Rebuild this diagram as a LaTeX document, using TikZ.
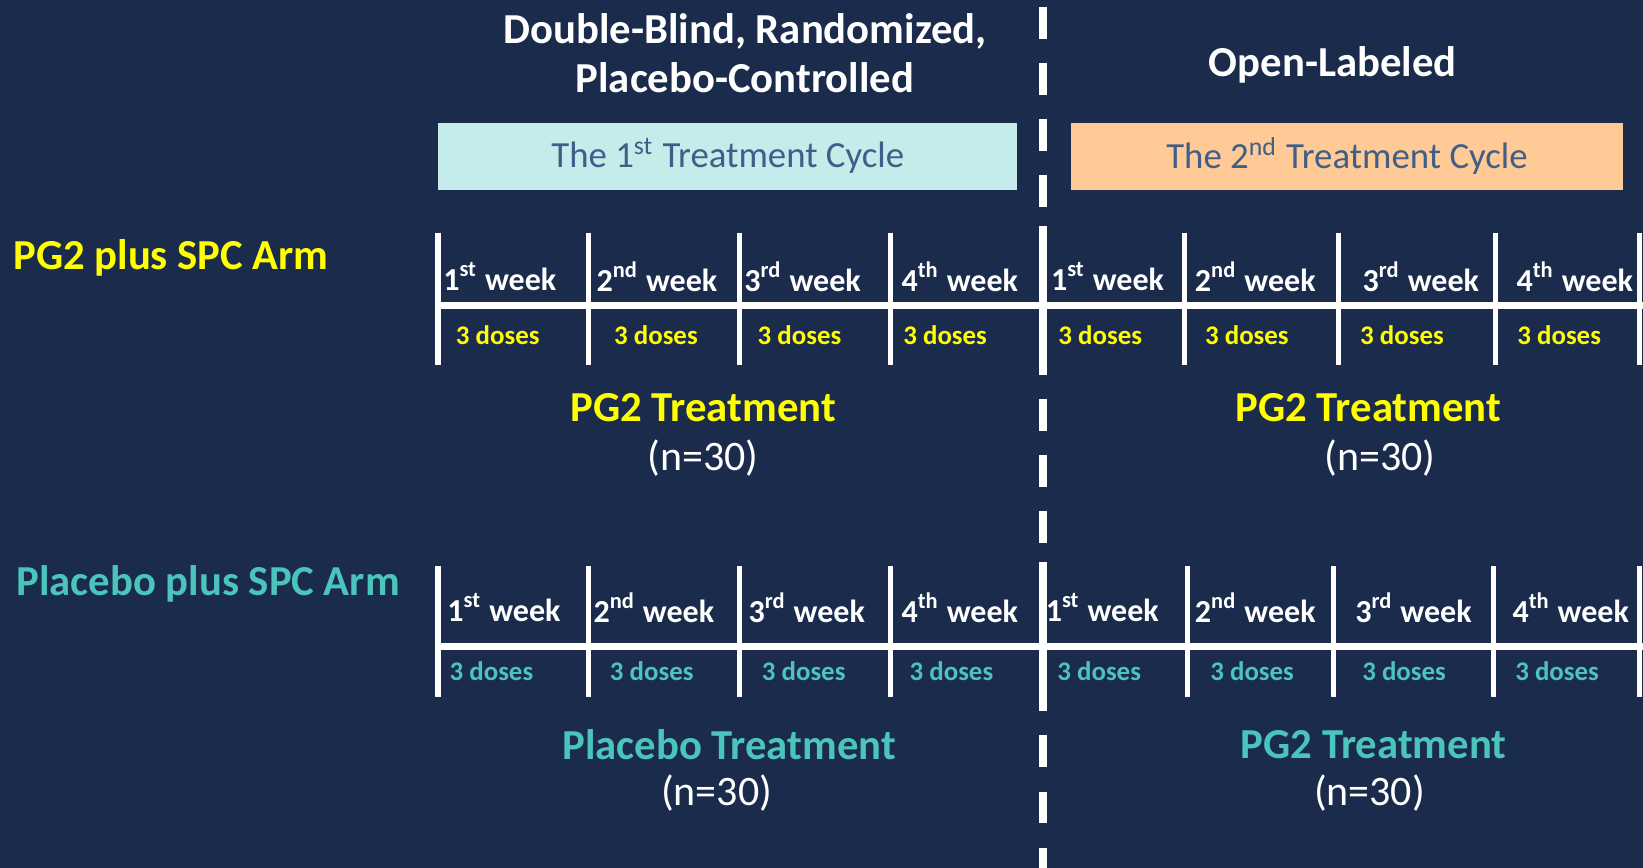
\documentclass[tikz,border=0pt]{standalone}
\usepackage{fontspec}
\setmainfont{Carlito}
\definecolor{navy}{HTML}{1B2B4B}
\definecolor{armyellow}{HTML}{FFFF00}
\definecolor{armteal}{HTML}{4BC4BD}
\definecolor{cyclecyan}{HTML}{C3ECEA}
\definecolor{cyclepeach}{HTML}{FFCA96}
\definecolor{cycletext}{HTML}{3F5F88}

\begin{document}
\begin{tikzpicture}[x=0.1mm, y=-0.1mm,
    bigtxt/.style={font=\fontsize{11.6}{13.2}\selectfont\bfseries, inner sep=0pt, align=center},
    ntxt/.style={font=\fontsize{11.4}{13}\selectfont, text=white, inner sep=0pt},
    weektxt/.style={font=\fontsize{8.7}{10}\selectfont\bfseries, text=white, inner sep=0pt},
    dosetxt/.style={font=\fontsize{7.3}{9}\selectfont\bfseries, inner sep=0pt},
    cyclebox/.style={font=\fontsize{10}{12}\selectfont, text=cycletext, inner sep=0pt,
      minimum width=55.3mm, minimum height=6.4mm},
    gridline/.style={white, line width=0.48mm},
    baseline/.style={white, line width=0.67mm},
    divider/.style={white, line width=0.76mm}]
    \fill[navy] (0,0) rectangle (1568,828);
    \useasboundingbox (0,0) rectangle (1568,828);

    %Titres
    \node[bigtxt, text=white] (blind) at (711,51) {Double-Blind, Randomized,\\Placebo-Controlled};
    \node[bigtxt, text=white] (open) at (1272,62) {Open-Labeled};
    \node[cyclebox, fill=cyclecyan] (cycA) at (694.5,149) {The 1\textsuperscript{st} Treatment Cycle};
    \node[cyclebox, fill=cyclepeach, minimum width=52.7mm] (cycB) at (1285.5,149) {The 2\textsuperscript{nd} Treatment Cycle};

    %Separation
    \draw[divider, dash pattern=on 3.05mm off 2.3mm] (995,6.4) -- (995,828);

    %Bras PG2
    \node[bigtxt, text=armyellow, anchor=west] (armA) at (12,246) {PG2 plus SPC Arm};
    \draw[baseline] (418,292) -- (1568,292);
    \foreach \x in {418,562,706,850,1130,1277,1427,1565}
      \draw[gridline] (\x,222) -- (\x,348);
    \draw[divider] (995,216) -- (995,350);
    \foreach \x/\n/\s [count=\i] in {477/1/st,627/2/nd,766/3/rd,916/4/th,1057/1/st,1198/2/nd,1356/3/rd,1503/4/th}
      \node[weektxt] (wkA\i) at (\x,264) {\n\textsuperscript{\s} week};
    \foreach \x [count=\i] in {475,626,763,902,1050,1190,1338,1488}
      \node[dosetxt, text=armyellow] (dsA\i) at (\x,320) {3 doses};
    \node[bigtxt, text=armyellow] (trtA1) at (671,389) {PG2 Treatment};
    \node[ntxt] (nA1) at (671,437) {(n=30)};
    \node[bigtxt, text=armyellow] (trtA2) at (1306,389) {PG2 Treatment};
    \node[ntxt] (nA2) at (1317,437) {(n=30)};

    %Bras placebo
    \node[bigtxt, text=armteal, anchor=west] (armB) at (15,557) {Placebo plus SPC Arm};
    \draw[baseline] (418,617) -- (1568,617);
    \foreach \x in {418,562,706,850,1133,1273,1425,1565}
      \draw[gridline] (\x,540) -- (\x,665);
    \draw[divider] (995,536) -- (995,666);
    \foreach \x/\n/\s [count=\i] in {481/1/st,624/2/nd,770/3/rd,916/4/th,1052/1/st,1198/2/nd,1349/3/rd,1499/4/th}
      \node[weektxt] (wkB\i) at (\x,580) {\n\textsuperscript{\s} week};
    \foreach \x [count=\i] in {469,622,767,908,1049,1195,1340,1486}
      \node[dosetxt, text=armteal] (dsB\i) at (\x,641) {3 doses};
    \node[bigtxt, text=armteal] (trtB1) at (696,711) {Placebo Treatment};
    \node[ntxt] (nB1) at (684,757) {(n=30)};
    \node[bigtxt, text=armteal] (trtB2) at (1311,711) {PG2 Treatment};
    \node[ntxt] (nB2) at (1307,757) {(n=30)};
\end{tikzpicture}
\end{document}
